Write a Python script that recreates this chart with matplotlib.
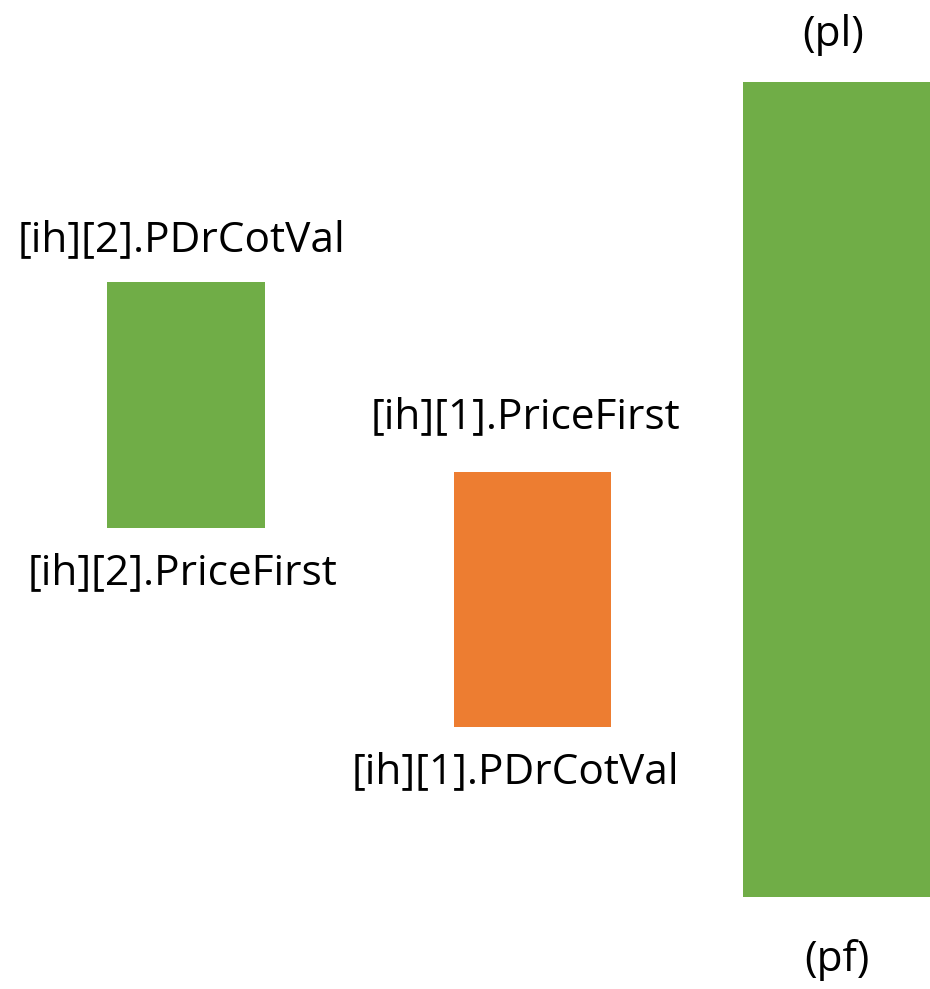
import matplotlib
matplotlib.use("Agg")
import matplotlib.pyplot as plt

# price levels of each candle (bottom / top)
bar_names = ["ih2", "ih1", "total"]
bar_low = [461, 262, 92]
bar_high = [707, 517, 907]
top_labels = ["[ih][2].PDrCotVal", "[ih][1].PriceFirst", "(pl)"]
bottom_labels = ["[ih][2].PriceFirst", "[ih][1].PDrCotVal", "(pf)"]
bar_colors = ["#70AD47", "#ED7D31", "#70AD47"]

x_center = [186, 532.5, 836.5]
bar_width = [158, 157, 187]

plt.rcParams['font.family'] = ['Open Sans', 'DejaVu Sans']

fig = plt.figure(figsize=(9.3, 9.89), dpi=100)
ax = fig.add_axes([0, 0, 1, 1])
ax.set_xlim(0, 930)
ax.set_ylim(0, 989)
ax.axis("off")

heights = [h - l for h, l in zip(bar_high, bar_low)]
ax.bar(x_center, heights, width=bar_width, bottom=bar_low, color=bar_colors)

label_dx_top = [-5, -7, -3]
label_dx_bot = [-3, -17, 0]
label_dy_top = [42, 55, 47]
label_dy_bot = [45, 45, 63]

for i in range(len(bar_names)):
    ax.text(x_center[i] + label_dx_top[i], bar_high[i] + label_dy_top[i], top_labels[i],
            ha="center", va="center", fontsize=30.5, color="black")
    ax.text(x_center[i] + label_dx_bot[i], bar_low[i] - label_dy_bot[i], bottom_labels[i],
            ha="center", va="center", fontsize=30.5, color="black")

fig.savefig("out.png", dpi=100)
